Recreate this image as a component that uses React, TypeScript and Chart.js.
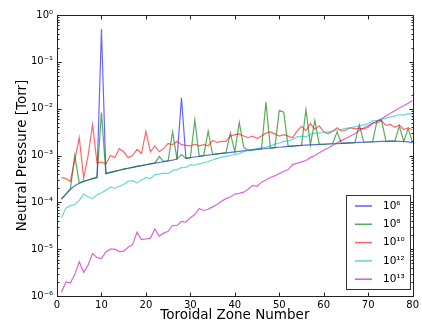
import { useEffect, useRef } from 'react';
import { Chart, registerables } from 'chart.js';

Chart.register(...registerables);

const zones = [
  1, 2, 3, 4, 5, 6, 7, 8, 9, 10, 11, 12, 13, 14, 15, 16, 17, 18, 19, 20,
  21, 22, 23, 24, 25, 26, 27, 28, 29, 30, 31, 32, 33, 34, 35, 36, 37, 38, 39, 40,
  41, 42, 43, 44, 45, 46, 47, 48, 49, 50, 51, 52, 53, 54, 55, 56, 57, 58, 59, 60,
  61, 62, 63, 64, 65, 66, 67, 68, 69, 70, 71, 72, 73, 74, 75, 76, 77, 78, 79, 80,
];

const p1e6 = [
  1.15e-4, 1.5e-4, 1.9e-4, 2.25e-4, 2.55e-4, 2.8e-4, 3.0e-4, 3.2e-4, 3.4e-4, 0.5,
  4.1e-4, 4.35e-4, 4.6e-4, 4.85e-4, 5.1e-4, 5.35e-4, 5.6e-4, 5.85e-4, 6.1e-4, 6.35e-4,
  6.6e-4, 6.85e-4, 7.1e-4, 7.4e-4, 7.7e-4, 8.0e-4, 8.4e-4, 1.7e-2, 8.7e-4, 9.0e-4,
  9.3e-4, 9.6e-4, 9.9e-4, 1.02e-3, 1.05e-3, 1.08e-3, 1.11e-3, 1.14e-3, 1.17e-3, 1.2e-3,
  1.23e-3, 1.26e-3, 1.29e-3, 1.32e-3, 1.35e-3, 1.38e-3, 1.41e-3, 1.44e-3, 1.47e-3, 1.5e-3,
  1.53e-3, 1.56e-3, 1.59e-3, 1.62e-3, 1.64e-3, 1.66e-3, 1.68e-3, 1.7e-3, 1.72e-3, 1.74e-3,
  1.76e-3, 1.78e-3, 1.8e-3, 1.82e-3, 1.84e-3, 1.86e-3, 1.88e-3, 1.9e-3, 1.92e-3, 1.94e-3,
  1.96e-3, 1.98e-3, 2.0e-3, 2.01e-3, 2.02e-3, 2.02e-3, 2.01e-3, 1.99e-3, 1.95e-3, 1.85e-3,
];

const p1e8 = [
  1.2e-4, 1.5e-4, 1.9e-4, 1.0e-3, 2.6e-4, 2.8e-4, 3.0e-4, 3.2e-4, 3.4e-4, 8.3e-3,
  4.1e-4, 4.35e-4, 4.6e-4, 4.85e-4, 5.1e-4, 5.35e-4, 5.6e-4, 5.85e-4, 6.1e-4, 6.35e-4,
  6.6e-4, 6.85e-4, 9.5e-4, 7.4e-4, 7.7e-4, 3.2e-3, 8.4e-4, 1.05e-3, 8.7e-4, 9.0e-4,
  5.7e-3, 9.6e-4, 9.9e-4, 3.3e-3, 1.05e-3, 1.08e-3, 1.11e-3, 1.14e-3, 3.0e-3, 1.2e-3,
  5.1e-3, 1.5e-3, 1.29e-3, 1.32e-3, 1.35e-3, 1.38e-3, 1.38e-2, 1.44e-3, 1.47e-3, 9.2e-3,
  8.4e-3, 1.56e-3, 1.59e-3, 1.62e-3, 1.64e-3, 9.5e-3, 1.68e-3, 5.6e-3, 1.72e-3, 1.74e-3,
  1.76e-3, 1.78e-3, 3.2e-3, 1.82e-3, 1.84e-3, 1.86e-3, 1.88e-3, 4.5e-3, 1.92e-3, 1.94e-3,
  1.96e-3, 5.6e-3, 5.7e-3, 2.01e-3, 2.02e-3, 2.02e-3, 4.3e-3, 1.99e-3, 3.8e-3, 1.85e-3,
];

const p1e10 = [
  3.4e-4, 3.2e-4, 2.8e-4, 8.0e-4, 2.4e-3, 3.3e-4, 1.0e-3, 4.6e-3, 7.0e-4, 7.2e-4,
  6.6e-4, 1.0e-3, 9.0e-4, 1.4e-3, 1.2e-3, 9.0e-4, 1.0e-3, 1.35e-3, 1.1e-3, 3.3e-3,
  1.2e-3, 1.6e-3, 1.2e-3, 1.4e-3, 1.8e-3, 1.7e-3, 2.0e-3, 1.7e-3, 1.65e-3, 1.6e-3,
  1.75e-3, 1.6e-3, 1.7e-3, 1.6e-3, 2.1e-3, 1.9e-3, 2.0e-3, 2.0e-3, 2.6e-3, 2.8e-3,
  2.9e-3, 2.6e-3, 2.4e-3, 2.6e-3, 2.3e-3, 2.6e-3, 3.0e-3, 3.2e-3, 2.9e-3, 2.6e-3,
  2.8e-3, 2.6e-3, 2.4e-3, 3.3e-3, 4.2e-3, 3.4e-3, 4.8e-3, 3.6e-3, 4.3e-3, 3.2e-3,
  2.9e-3, 3.3e-3, 3.9e-3, 3.3e-3, 3.5e-3, 3.9e-3, 3.7e-3, 3.8e-3, 3.7e-3, 4.0e-3,
  4.9e-3, 5.0e-3, 5.5e-3, 4.4e-3, 4.6e-3, 4.0e-3, 4.5e-3, 3.6e-3, 3.9e-3, 3.5e-3,
];

const p1e12 = [
  4.7e-5, 7.5e-5, 8.5e-5, 9.0e-5, 1.1e-4, 1.5e-4, 1.3e-4, 1.2e-4, 1.45e-4, 1.6e-4,
  1.8e-4, 2.1e-4, 2.0e-4, 2.2e-4, 2.4e-4, 2.8e-4, 2.9e-4, 2.6e-4, 3.0e-4, 3.4e-4,
  3.2e-4, 3.9e-4, 4.0e-4, 4.2e-4, 4.1e-4, 4.8e-4, 5.0e-4, 5.5e-4, 5.6e-4, 6.4e-4,
  6.2e-4, 6.6e-4, 7.0e-4, 7.4e-4, 8.0e-4, 8.6e-4, 9.2e-4, 9.6e-4, 1.0e-3, 1.05e-3,
  1.1e-3, 1.2e-3, 1.3e-3, 1.35e-3, 1.4e-3, 1.45e-3, 1.5e-3, 1.6e-3, 1.75e-3, 1.85e-3,
  2.0e-3, 2.05e-3, 2.2e-3, 2.5e-3, 2.6e-3, 2.5e-3, 2.8e-3, 3.0e-3, 3.05e-3, 3.1e-3,
  3.2e-3, 3.3e-3, 3.5e-3, 3.6e-3, 3.8e-3, 3.9e-3, 4.1e-3, 4.3e-3, 4.5e-3, 4.8e-3,
  5.5e-3, 5.6e-3, 5.9e-3, 6.3e-3, 6.6e-3, 7.0e-3, 7.4e-3, 7.3e-3, 7.8e-3, 7.5e-3,
];

const p1e13 = [
  1.2e-6, 2.0e-6, 1.9e-6, 2.9e-6, 5.4e-6, 3.2e-6, 4.6e-6, 8.1e-6, 6.6e-6, 6.3e-6,
  8.7e-6, 1.0e-5, 1.0e-5, 8.9e-6, 9.1e-6, 1.1e-5, 1.25e-5, 2.3e-5, 1.6e-5, 1.65e-5,
  1.7e-5, 2.7e-5, 1.9e-5, 2.2e-5, 2.4e-5, 3.2e-5, 3.2e-5, 3.9e-5, 3.8e-5, 4.7e-5,
  5.5e-5, 7.4e-5, 6.7e-5, 7.1e-5, 8.0e-5, 9.0e-5, 1.05e-4, 1.2e-4, 1.3e-4, 1.5e-4,
  1.55e-4, 1.65e-4, 1.9e-4, 2.3e-4, 2.2e-4, 2.7e-4, 3.0e-4, 3.4e-4, 3.7e-4, 4.1e-4,
  4.6e-4, 5.0e-4, 6.4e-4, 6.8e-4, 7.3e-4, 7.8e-4, 9.0e-4, 1.0e-3, 1.15e-3, 1.3e-3,
  1.45e-3, 1.65e-3, 1.85e-3, 2.1e-3, 2.3e-3, 2.6e-3, 2.9e-3, 3.4e-3, 3.9e-3, 4.3e-3,
  4.9e-3, 5.4e-3, 6.1e-3, 7.0e-3, 8.0e-3, 9.0e-3, 1.03e-2, 1.15e-2, 1.3e-2, 1.5e-2,
];

const seriesLabels = ['10\u2076', '10\u2078', '10\u00b9\u2070', '10\u00b9\u00b2', '10\u00b9\u00b3'];
const seriesColors = [
  'rgba(0,0,255,0.6)',
  'rgba(0,128,0,0.65)',
  'rgba(255,0,0,0.6)',
  'rgba(0,191,191,0.6)',
  'rgba(191,0,191,0.6)',
];
const xTicks = [0, 10, 20, 30, 40, 50, 60, 70, 80];
const yTicks = [1e-6, 1e-5, 1e-4, 1e-3, 1e-2, 1e-1, 1];
const yTickLabels = ['10\u207b\u2076', '10\u207b\u2075', '10\u207b\u2074', '10\u207b\u00b3', '10\u207b\u00b2', '10\u207b\u00b9', '10\u2070'];
const xTitle = 'Toroidal Zone Number';
const yTitle = 'Neutral Pressure [Torr]';

const FONT = '"DejaVu Sans", sans-serif';

const framePlugin = {
  id: 'frameTicks',
  afterDatasetsDraw(chart: any) {
    const { ctx, chartArea: a, scales } = chart;
    const L = Math.round(a.left) + 0.5;
    const R = Math.round(a.right) + 0.5;
    const T = Math.round(a.top) + 0.5;
    const B = Math.round(a.bottom) + 0.5;
    ctx.save();
    ctx.strokeStyle = '#222';
    ctx.lineWidth = 1;
    const seg = (x1: number, y1: number, x2: number, y2: number) => {
      ctx.beginPath();
      ctx.moveTo(x1, y1);
      ctx.lineTo(x2, y2);
      ctx.stroke();
    };
    ctx.strokeRect(L, T, R - L, B - T);
    const xs = scales.x;
    for (const v of xTicks) {
      const px = Math.round(xs.getPixelForValue(v)) + 0.5;
      seg(px, B, px, B - 4);
      seg(px, T, px, T + 4);
    }
    const ys = scales.y;
    for (const v of yTicks) {
      const py = Math.round(ys.getPixelForValue(v)) + 0.5;
      seg(L, py, L + 4, py);
      seg(R, py, R - 4, py);
    }
    for (let i = 0; i < yTicks.length - 1; i++) {
      for (let k = 2; k <= 9; k++) {
        const py = Math.round(ys.getPixelForValue(yTicks[i] * k)) + 0.5;
        seg(L, py, L + 2, py);
        seg(R, py, R - 2, py);
      }
    }
    ctx.restore();
  },
};

const legendPlugin = {
  id: 'boxLegend',
  afterDraw(chart: any) {
    const { ctx, chartArea: a } = chart;
    const w = 64;
    const h = 94;
    const right = Math.round(a.right) - 3;
    const bottom = Math.round(a.bottom) - 7;
    const left = right - w;
    const top = bottom - h;
    ctx.save();
    ctx.fillStyle = '#fff';
    ctx.fillRect(left, top, w, h);
    ctx.strokeStyle = '#333';
    ctx.lineWidth = 1;
    ctx.strokeRect(left + 0.5, top + 0.5, w, h);
    chart.data.datasets.forEach((ds: any, i: number) => {
      const cy = top + 11 + i * 18.3;
      ctx.strokeStyle = ds.borderColor;
      ctx.lineWidth = 1.6;
      ctx.beginPath();
      ctx.moveTo(left + 9, cy);
      ctx.lineTo(left + 26, cy);
      ctx.stroke();
      ctx.fillStyle = '#000';
      ctx.font = `10.5px ${FONT}`;
      ctx.textBaseline = 'middle';
      ctx.textAlign = 'left';
      ctx.fillText(ds.label, left + 37, cy);
    });
    ctx.restore();
  },
};

export default function App() {
  const canvasRef = useRef<HTMLCanvasElement | null>(null);

  useEffect(() => {
    document.body.style.margin = '0';
    const canvas = canvasRef.current;
    if (!canvas) return;
    const seriesValues = [p1e6, p1e8, p1e10, p1e12, p1e13];
    const chart = new Chart(canvas, {
      type: 'line',
      data: {
        datasets: seriesValues.map((vals, i) => ({
          label: seriesLabels[i],
          data: zones.map((z, j) => ({ x: z, y: vals[j] })),
          borderColor: seriesColors[i],
          backgroundColor: seriesColors[i],
          borderWidth: 1.2,
          pointRadius: 0,
          fill: false,
          tension: 0,
          order: seriesValues.length - i,
        })),
      },
      options: {
        responsive: false,
        animation: false,
        devicePixelRatio: 1,
        layout: { padding: { left: 0, right: 6, top: 15, bottom: 0 } },
        plugins: {
          legend: { display: false },
          tooltip: { enabled: false },
        },
        scales: {
          x: {
            type: 'linear',
            min: 0,
            max: 80,
            afterBuildTicks: (s: any) => {
              s.ticks = xTicks.map((v) => ({ value: v }));
            },
            afterFit: (s: any) => {
              s.height = 26;
            },
            grid: { display: false, drawTicks: false },
            border: { display: false },
            ticks: {
              padding: 3,
              color: '#000',
              autoSkip: false,
              maxRotation: 0,
              font: { family: FONT, size: 10 },
              callback: (v: any) => String(v),
            },
            title: {
              display: true,
              text: xTitle,
              color: '#000',
              font: { family: FONT, size: 13.5, lineHeight: 1 },
              padding: { top: 0, bottom: 0 },
            },
          },
          y: {
            type: 'logarithmic',
            min: 1e-6,
            max: 1,
            afterBuildTicks: (s: any) => {
              s.ticks = yTicks.map((v) => ({ value: v }));
            },
            afterFit: (s: any) => {
              s.width = 57;
            },
            grid: { display: false, drawTicks: false },
            border: { display: false },
            ticks: {
              padding: 4,
              color: '#000',
              autoSkip: false,
              font: { family: FONT, size: 10 },
              callback: (_v: any, idx: number) => yTickLabels[idx],
            },
            title: {
              display: true,
              text: yTitle,
              color: '#000',
              font: { family: FONT, size: 13.5, lineHeight: 1 },
              padding: { top: 16, bottom: 0 },
            },
          },
        },
      },
      plugins: [framePlugin, legendPlugin],
    } as any);
    return () => {
      chart.destroy();
    };
  }, []);

  return (
    <div style={{ width: 422, height: 322 }}>
      <canvas ref={canvasRef} width={422} height={322} style={{ display: 'block' }} />
    </div>
  );
}
